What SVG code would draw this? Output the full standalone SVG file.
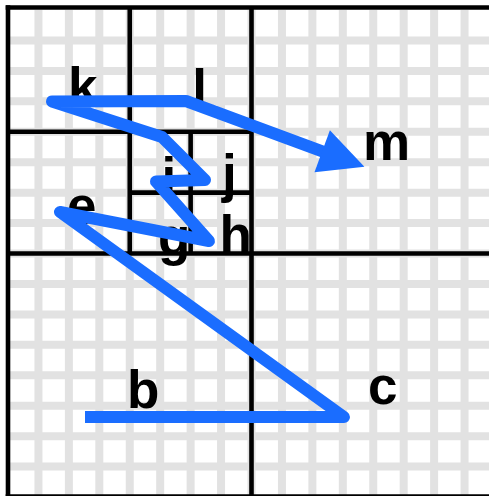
<svg xmlns="http://www.w3.org/2000/svg" width="489" height="496" viewBox="0 0 489 496">
  <style>
    .grid line { stroke: #e2e2e2; stroke-width: 8; }
    .quad line { stroke: #000; stroke-width: 4.6; }
    .lbl { font-family: "Liberation Sans", Arial, sans-serif; font-weight: bold; font-size: 53px; fill: #000; }
    .curve { fill: none; stroke: #1a6dff; stroke-width: 12; stroke-linejoin: round; stroke-linecap: butt; }
  </style>
  <defs>
    <marker id="arrow" markerUnits="userSpaceOnUse" markerWidth="60" markerHeight="60" refX="3" refY="22.3" orient="auto" overflow="visible">
      <path d="M0,0 L45,22.3 L0,44.6 Z" fill="#1a6dff"/>
    </marker>
  </defs>
  <rect width="489" height="496" fill="#fff"/>
  <g id="grid" class="grid">
    <line x1="38.44" y1="10" x2="38.44" y2="497"/>
    <line x1="68.88" y1="10" x2="68.88" y2="497"/>
    <line x1="99.31" y1="10" x2="99.31" y2="497"/>
    <line x1="129.75" y1="10" x2="129.75" y2="497"/>
    <line x1="160.19" y1="10" x2="160.19" y2="497"/>
    <line x1="190.63" y1="10" x2="190.63" y2="497"/>
    <line x1="221.06" y1="10" x2="221.06" y2="497"/>
    <line x1="251.5" y1="10" x2="251.5" y2="497"/>
    <line x1="281.94" y1="10" x2="281.94" y2="497"/>
    <line x1="312.38" y1="10" x2="312.38" y2="497"/>
    <line x1="342.81" y1="10" x2="342.81" y2="497"/>
    <line x1="373.25" y1="10" x2="373.25" y2="497"/>
    <line x1="403.69" y1="10" x2="403.69" y2="497"/>
    <line x1="434.13" y1="10" x2="434.13" y2="497"/>
    <line x1="464.56" y1="10" x2="464.56" y2="497"/>
    <line x1="8" y1="40.44" x2="495" y2="40.44"/>
    <line x1="8" y1="70.88" x2="495" y2="70.88"/>
    <line x1="8" y1="101.31" x2="495" y2="101.31"/>
    <line x1="8" y1="131.75" x2="495" y2="131.75"/>
    <line x1="8" y1="162.19" x2="495" y2="162.19"/>
    <line x1="8" y1="192.63" x2="495" y2="192.63"/>
    <line x1="8" y1="223.06" x2="495" y2="223.06"/>
    <line x1="8" y1="253.5" x2="495" y2="253.5"/>
    <line x1="8" y1="283.94" x2="495" y2="283.94"/>
    <line x1="8" y1="314.38" x2="495" y2="314.38"/>
    <line x1="8" y1="344.81" x2="495" y2="344.81"/>
    <line x1="8" y1="375.25" x2="495" y2="375.25"/>
    <line x1="8" y1="405.69" x2="495" y2="405.69"/>
    <line x1="8" y1="436.13" x2="495" y2="436.13"/>
    <line x1="8" y1="466.56" x2="495" y2="466.56"/>
  </g>
  <g id="quadtree" class="quad">
    <line x1="5.7" y1="7.5" x2="497" y2="7.5"/>
    <line x1="8" y1="5.2" x2="8" y2="499"/>
    <line x1="5.7" y1="496.5" x2="497" y2="496.5"/>
    <line x1="494.7" y1="5.2" x2="494.7" y2="499"/>
    <line x1="251.5" y1="7.5" x2="251.5" y2="497"/>
    <line x1="8" y1="253.5" x2="495" y2="253.5"/>
    <line x1="129.75" y1="7.5" x2="129.75" y2="253.5"/>
    <line x1="8" y1="131.75" x2="251.5" y2="131.75"/>
    <line x1="190.63" y1="131.75" x2="190.63" y2="253.5"/>
    <line x1="129.75" y1="192.63" x2="251.5" y2="192.63"/>
  </g>
  <g id="labels">
    <g id="node-b"><text class="lbl" x="127" y="408">b</text></g>
    <g id="node-c"><text class="lbl" x="368" y="404">c</text></g>
    <g id="node-e"><text class="lbl" x="67" y="224">e</text></g>
    <g id="node-g"><text class="lbl" x="158" y="255">g</text></g>
    <g id="node-h"><text class="lbl" x="219.5" y="253">h</text></g>
    <g id="node-i"><text class="lbl" x="161.5" y="195">i</text></g>
    <g id="node-j"><text class="lbl" x="222" y="192">j</text></g>
    <g id="node-k"><text class="lbl" x="68" y="105">k</text></g>
    <g id="node-l"><text class="lbl" x="192.3" y="107">l</text></g>
    <g id="node-m"><text class="lbl" x="363" y="160">m</text></g>
  </g>
  <g id="connectors">
    <polyline class="curve" marker-end="url(#arrow)" points="85,417 344,417 60,212 209,241 156,181.5 205,180 162,137 52,101.5 186,101 325,152.3"/>
  </g>
</svg>
